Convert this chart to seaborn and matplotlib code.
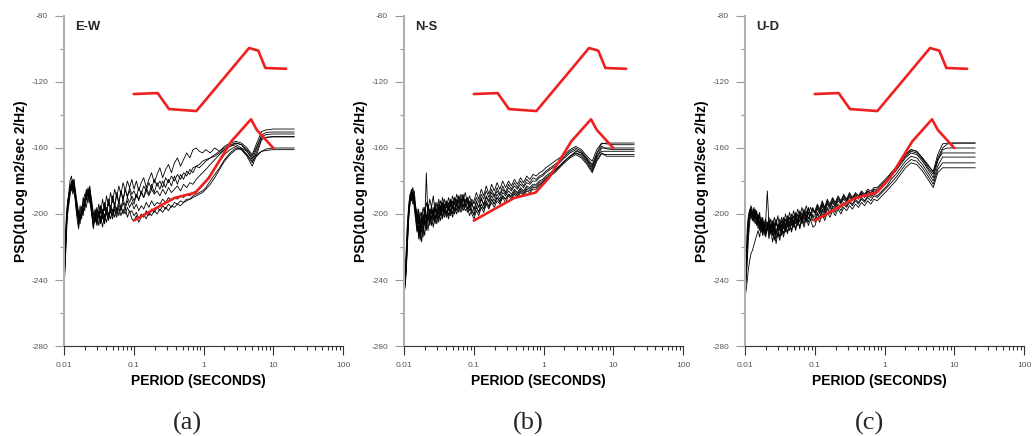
import pandas as pd
import matplotlib
matplotlib.use('Agg')
import matplotlib.pyplot as plt
import seaborn as sns
from matplotlib.ticker import LogLocator, NullFormatter

sns.set_style('ticks')
plt.rcParams['font.family'] = ['Liberation Sans', 'DejaVu Sans']
plt.rcParams['axes.unicode_minus'] = False

#=#=#=#=#=#=#=#=#=#=#=#= DADOS #=#=#=#=#=#=#=#=#=#=#=#=

# periodos (s) – parte ruidosa, intermediaria e longa
PERIOD_SHORT = [0.0100, 0.0104, 0.0108, 0.0112, 0.0117, 0.0122, 0.0128, 0.0134, 0.0140, 0.0147,
                0.0154, 0.0162, 0.0170, 0.0179, 0.0188, 0.0198, 0.0209, 0.0221, 0.0234, 0.0248,
                0.0263, 0.0279, 0.0296, 0.0315, 0.0335, 0.0357, 0.0381, 0.0407, 0.0435, 0.0465,
                0.0497, 0.0532, 0.0570, 0.0611, 0.0655, 0.0703, 0.0755, 0.0811, 0.0872, 0.0938]
PERIOD_MID = [0.101, 0.109, 0.118, 0.128, 0.139, 0.151, 0.165, 0.180, 0.197, 0.216,
              0.237, 0.260, 0.286, 0.315, 0.347, 0.383, 0.423, 0.468, 0.518, 0.574,
              0.637, 0.707, 0.785, 0.872, 0.969, 1.08]
PERIOD_LONG = [1.25, 1.45, 1.70, 2.0, 2.4, 2.9, 3.5, 4.2, 5.0, 5.8, 6.8, 8.0, 10, 13, 16, 20]
PERIOD = PERIOD_SHORT + PERIOD_MID + PERIOD_LONG

# modelos de ruido (vermelho)
NHNM_PERIOD = [0.1, 0.22, 0.32, 0.79, 4.5, 6.1, 7.7, 15.3]
NHNM_DB = [-127.3, -126.7, -136.4, -137.6, -99.4, -101, -111.5, -112]
NLNM_PERIOD = [0.1, 0.38, 0.77, 1.2, 2.5, 4.8, 5.8, 10]
NLNM_DB = [-204, -190.3, -187, -178, -156, -142.6, -149, -160]

# componente E-W
ew_curves = [
    [-242, -228, -210, -196, -187, -180, -177, -183, -179, -190, -197, -204, -195, -199, -190, -194, -185, -188, -183, -197,
     -206, -197, -203, -194, -200, -191, -198, -189, -195, -187, -193, -185, -190, -183, -188, -181, -186, -180, -184, -179]
    + [-185, -180, -186, -181, -178, -184, -179, -175, -181, -176, -172, -178, -173, -170, -175, -169, -166, -171, -167, -163,
       -166, -161, -160, -162, -163, -161]
    + [-163, -160, -162, -159, -157, -156, -157, -160, -164, -157, -150, -149, -148.5, -148.5, -148.5, -148.5],
    [-236, -220, -204, -193, -189, -184, -181, -186, -182, -192, -199, -207, -199, -196, -193, -188, -191, -184, -190, -194,
     -201, -203, -196, -202, -195, -203, -194, -200, -192, -198, -190, -196, -188, -194, -186, -192, -185, -190, -184, -188]
    + [-186, -190, -184, -188, -183, -186, -181, -185, -179, -183, -180, -184, -178, -181, -177, -180, -176, -179, -175, -177,
       -173, -175, -171, -170, -168, -167]
    + [-166, -164, -162, -160, -158, -157, -158, -162, -167, -160, -152, -150.5, -150.3, -150.3, -150.3, -150.3],
    [-240, -226, -208, -199, -192, -187, -185, -181, -186, -193, -201, -198, -204, -197, -195, -191, -189, -186, -192, -199,
     -204, -198, -206, -199, -205, -197, -202, -196, -201, -195, -199, -194, -198, -192, -196, -191, -195, -190, -193, -189]
    + [-192, -188, -191, -187, -190, -186, -189, -185, -188, -186, -189, -185, -188, -184, -187, -185, -183, -186, -182, -184,
       -181, -182, -179, -177, -175, -173]
    + [-170, -167, -164, -161, -159, -158, -160, -164, -169, -162, -154, -153.5, -153.3, -153.3, -153.3, -153.3],
    [-246, -232, -214, -201, -195, -189, -183, -188, -184, -195, -203, -209, -200, -203, -196, -198, -190, -193, -187, -200,
     -208, -202, -207, -200, -206, -199, -204, -198, -203, -196, -201, -195, -200, -194, -198, -193, -197, -192, -196, -193]
    + [-197, -194, -198, -195, -197, -193, -196, -192, -195, -193, -194, -191, -193, -190, -192, -190, -191, -189, -190, -188,
       -189, -187, -186, -184, -182, -180]
    + [-176, -172, -168, -164, -161, -159, -161, -165, -171, -164, -155, -153.5, -153, -153, -153, -153],
    [-233, -218, -202, -194, -188, -186, -180, -185, -187, -191, -196, -202, -206, -198, -201, -193, -196, -189, -193, -196,
     -209, -201, -205, -198, -204, -200, -206, -199, -204, -198, -203, -197, -202, -196, -201, -197, -200, -196, -199, -198]
    + [-201, -199, -203, -200, -202, -198, -201, -197, -199, -196, -198, -195, -197, -194, -196, -193, -194, -192, -193, -191,
       -191, -189, -188, -187, -186, -184]
    + [-180, -176, -172, -167, -163, -160, -161, -164, -168, -165, -162, -160.5, -160, -160, -160, -160],
    [-239, -224, -206, -197, -191, -183, -186, -180, -185, -189, -195, -200, -203, -201, -194, -196, -187, -190, -185, -193,
     -203, -205, -199, -207, -201, -208, -200, -205, -199, -203, -197, -202, -196, -201, -195, -200, -196, -202, -198, -203]
    + [-204, -201, -205, -202, -200, -203, -199, -201, -198, -200, -197, -199, -196, -198, -195, -196, -194, -195, -193, -192,
       -191, -190, -189, -188, -187, -185]
    + [-182, -178, -173, -168, -164, -161, -160, -162, -166, -164, -162, -161.5, -161, -161, -161, -161],
    [-243, -229, -211, -195, -190, -185, -182, -179, -181, -187, -193, -199, -202, -197, -199, -192, -186, -189, -184, -191,
     -199, -204, -197, -200, -195, -201, -193, -199, -191, -197, -189, -195, -187, -193, -186, -191, -185, -189, -186, -191]
    + [-194, -188, -192, -186, -190, -184, -188, -182, -187, -181, -185, -180, -184, -179, -183, -177, -182, -176, -179, -174,
       -176, -172, -171, -172, -170, -168]
    + [-166, -165, -163, -161, -159, -157, -158, -161, -165, -159, -153, -151.8, -151.5, -151.5, -151.5, -151.5],
]

# componente N-S
ns_curves = [
    [-246, -241, -230, -214, -199, -190, -187, -192, -186, -195, -203, -197, -208, -199, -206, -196, -203, -194, -200, -195,
     -202, -193, -199, -191, -197, -190, -196, -192, -198, -191, -197, -190, -195, -189, -194, -188, -193, -190, -195, -191]
    + [-194, -190, -193, -188, -191, -186, -190, -185, -189, -184, -188, -183, -187, -182, -185, -181, -184, -180, -183, -179,
       -181, -178, -179, -177, -176, -174]
    + [-172, -170, -168, -165, -162, -160, -162, -166, -170, -163, -157.5, -157, -157, -157, -157, -157],
    [-240, -236, -225, -208, -196, -189, -185, -190, -194, -200, -210, -203, -214, -205, -211, -201, -208, -199, -205, -198,
     -204, -196, -202, -194, -200, -193, -199, -195, -201, -194, -200, -193, -198, -192, -197, -191, -196, -193, -198, -194]
    + [-197, -193, -196, -191, -195, -190, -193, -189, -192, -188, -191, -187, -189, -186, -188, -185, -187, -184, -186, -183,
       -184, -182, -182, -180, -179, -177]
    + [-175, -173, -171, -168, -165, -163, -164, -168, -173, -166, -160, -160, -160, -160, -160, -160],
    [-248, -244, -234, -219, -203, -193, -189, -186, -191, -198, -205, -212, -202, -209, -200, -206, -175, -204, -197, -203,
     -196, -205, -197, -203, -195, -202, -194, -200, -193, -199, -192, -198, -191, -197, -190, -196, -191, -197, -192, -198]
    + [-201, -195, -199, -194, -197, -192, -196, -191, -194, -190, -193, -189, -191, -188, -190, -187, -189, -186, -188, -185,
       -186, -184, -184, -182, -181, -179]
    + [-177, -174, -171, -168, -165, -162, -163, -167, -171, -165, -162, -162, -162, -162, -162, -162],
    [-243, -238, -227, -211, -198, -191, -190, -194, -189, -202, -197, -215, -206, -217, -207, -213, -203, -210, -200, -207,
     -198, -206, -199, -205, -197, -203, -196, -202, -195, -201, -195, -200, -194, -199, -193, -198, -194, -199, -195, -200]
    + [-203, -198, -201, -196, -199, -194, -197, -193, -196, -192, -194, -190, -193, -189, -191, -188, -190, -187, -189, -186,
       -187, -185, -185, -183, -181, -179]
    + [-177, -175, -172, -169, -166, -164, -166, -170, -175, -168, -163.5, -164, -164, -164, -164, -164],
    [-245, -242, -232, -217, -201, -194, -188, -184, -190, -196, -201, -206, -199, -203, -196, -201, -193, -198, -191, -196,
     -189, -199, -193, -198, -192, -197, -191, -196, -190, -195, -189, -194, -188, -193, -188, -192, -187, -193, -189, -194]
    + [-192, -187, -191, -185, -189, -183, -188, -182, -186, -181, -185, -180, -184, -180, -183, -179, -182, -178, -181, -177,
       -179, -176, -177, -175, -174, -172]
    + [-170, -168, -166, -164, -161, -159, -161, -165, -168, -161, -157, -157.5, -158, -158, -158, -158],
    [-239, -233, -220, -205, -194, -188, -192, -188, -196, -204, -211, -207, -216, -209, -214, -204, -210, -201, -207, -202,
     -208, -200, -206, -198, -204, -197, -202, -198, -203, -197, -202, -196, -200, -195, -199, -194, -198, -196, -201, -197]
    + [-200, -196, -199, -194, -197, -193, -195, -191, -194, -190, -192, -189, -191, -188, -189, -186, -188, -185, -187, -184,
       -185, -183, -183, -181, -180, -178]
    + [-176, -174, -171, -168, -165, -163, -165, -169, -174, -167, -163, -165, -165, -165, -165, -165],
    [-247, -243, -231, -216, -200, -192, -186, -189, -193, -199, -206, -200, -211, -203, -208, -198, -205, -196, -202, -197,
     -201, -195, -203, -196, -201, -194, -200, -193, -198, -192, -196, -190, -195, -189, -194, -189, -195, -190, -196, -193]
    + [-198, -192, -196, -190, -194, -189, -192, -187, -190, -186, -189, -185, -188, -184, -186, -183, -185, -182, -184, -181,
       -182, -180, -180, -178, -177, -175]
    + [-173, -171, -169, -166, -163, -161, -163, -167, -172, -164, -159, -160.5, -161, -161, -161, -161],
]

# componente U-D
ud_curves = [
    [-248, -236, -218, -205, -199, -196, -201, -197, -203, -199, -206, -201, -208, -203, -210, -204, -186, -207, -212, -205,
     -211, -204, -209, -203, -208, -202, -207, -201, -206, -200, -205, -199, -204, -198, -203, -197, -202, -196, -201, -197]
    + [-199, -195, -198, -193, -197, -192, -195, -191, -194, -190, -193, -189, -192, -188, -191, -188, -190, -187, -189, -186,
       -188, -185, -186, -184, -182, -180]
    + [-176, -173, -169, -165, -162, -163, -167, -172, -176, -166, -160, -157.5, -157, -157, -157, -157],
    [-245, -230, -212, -202, -198, -203, -199, -205, -200, -207, -203, -210, -205, -212, -206, -214, -207, -213, -206, -211,
     -205, -212, -206, -210, -204, -209, -203, -208, -202, -207, -201, -206, -200, -205, -199, -204, -198, -203, -199, -202]
    + [-201, -197, -200, -195, -199, -194, -197, -193, -196, -192, -194, -191, -193, -190, -192, -189, -191, -188, -190, -187,
       -189, -186, -187, -185, -183, -181]
    + [-177, -174, -170, -166, -163, -164, -168, -173, -178, -168, -161, -160, -160, -160, -160, -160],
    [-250, -246, -240, -233, -228, -224, -222, -219, -216, -213, -210, -214, -208, -213, -207, -212, -205, -211, -206, -213,
     -207, -215, -208, -214, -207, -212, -206, -211, -205, -210, -204, -209, -203, -208, -202, -206, -201, -205, -200, -204]
    + [-203, -199, -202, -197, -200, -196, -199, -195, -197, -194, -196, -193, -195, -192, -194, -191, -193, -190, -192, -189,
       -190, -188, -189, -187, -185, -183]
    + [-179, -176, -172, -168, -165, -166, -170, -175, -180, -171, -165.5, -165.5, -165.5, -165.5, -165.5, -165.5],
    [-244, -226, -208, -201, -197, -200, -204, -199, -206, -202, -209, -204, -211, -205, -213, -206, -210, -204, -212, -207,
     -216, -209, -214, -207, -213, -206, -211, -205, -210, -204, -208, -203, -207, -201, -206, -200, -205, -199, -204, -200]
    + [-205, -200, -203, -198, -202, -197, -200, -196, -199, -195, -198, -194, -196, -193, -195, -192, -194, -191, -193, -190,
       -192, -189, -190, -188, -186, -184]
    + [-181, -178, -174, -170, -167, -168, -172, -177, -182, -173, -169, -169, -169, -169, -169, -169],
    [-247, -240, -228, -215, -205, -198, -202, -196, -201, -198, -204, -199, -207, -202, -209, -203, -208, -202, -210, -204,
     -209, -203, -210, -205, -211, -204, -209, -203, -207, -202, -206, -200, -205, -199, -204, -198, -202, -197, -200, -196]
    + [-200, -196, -199, -194, -198, -193, -196, -192, -195, -191, -193, -190, -192, -189, -191, -188, -190, -187, -189, -186,
       -187, -185, -185, -183, -181, -179]
    + [-175, -172, -168, -164, -161, -162, -166, -171, -174, -164, -157.5, -157, -157, -157, -157, -157],
    [-249, -238, -224, -210, -202, -197, -200, -204, -198, -205, -201, -208, -203, -210, -205, -213, -207, -215, -209, -217,
     -210, -218, -211, -216, -209, -214, -208, -212, -206, -211, -205, -210, -204, -209, -203, -208, -202, -207, -203, -208]
    + [-207, -202, -205, -200, -204, -199, -202, -198, -201, -197, -200, -196, -198, -195, -197, -194, -196, -193, -195, -192,
       -194, -191, -192, -190, -188, -186]
    + [-183, -180, -176, -172, -169, -170, -174, -179, -184, -175, -172, -172, -172, -172, -172, -172],
    [-243, -232, -216, -204, -199, -195, -198, -202, -197, -203, -200, -206, -202, -209, -204, -211, -205, -209, -203, -208,
     -202, -207, -201, -208, -202, -206, -200, -205, -199, -204, -198, -203, -197, -202, -196, -201, -195, -200, -196, -199]
    + [-198, -194, -197, -192, -196, -191, -194, -190, -193, -189, -192, -188, -191, -187, -190, -187, -189, -186, -188, -185,
       -186, -184, -184, -182, -180, -178]
    + [-175, -172, -168, -164, -161, -162, -166, -170, -175, -167, -163, -163, -163, -163, -163, -163],
]

PANELS = [('E-W', ew_curves, '(a)'), ('N-S', ns_curves, '(b)'), ('U-D', ud_curves, '(c)')]

#=#=#=#=#=#=#=#=#=#=#=#= GRAFICO #=#=#=#=#=#=#=#=#=#=#=#=

fig = plt.figure(figsize=(10.32, 4.36), dpi=100)
lefts = [64, 404, 745]

for i, (comp, curvas, letra) in enumerate(PANELS):
    rows = []
    for k, c in enumerate(curvas):
        assert len(c) == len(PERIOD), (comp, k, len(c))
        for p, v in zip(PERIOD, c):
            rows.append({'period': p, 'psd': v, 'curve': k})
    df = pd.DataFrame(rows)

    ax = fig.add_axes([lefts[i] / 1032, 90 / 436, 279 / 1032, 330 / 436])
    sns.lineplot(data=df, x='period', y='psd', units='curve', estimator=None,
                 color='black', linewidth=0.6, ax=ax, legend=False)
    sns.lineplot(x=NHNM_PERIOD, y=NHNM_DB, color='#f02020', linewidth=1.9, ax=ax)
    sns.lineplot(x=NLNM_PERIOD, y=NLNM_DB, color='#f02020', linewidth=1.9, ax=ax)

    ax.set_xscale('log')
    ax.set_xlim(0.01, 100)
    ax.set_ylim(-280, -80)
    ax.set_xticks([0.01, 0.1, 1, 10, 100])
    ax.set_xticklabels(['0.01', '0.1', '1', '10', '100'])
    ax.xaxis.set_minor_locator(LogLocator(base=10, subs=range(2, 10)))
    ax.xaxis.set_minor_formatter(NullFormatter())
    ax.set_yticks([-280, -240, -200, -160, -120, -80])
    ax.set_yticks([-260, -220, -180, -140, -100], minor=True)

    ax.tick_params(axis='both', which='major', direction='out', length=6.5, width=0.8,
                   labelsize=6, labelcolor='#555555', pad=5)
    ax.tick_params(axis='both', which='minor', direction='out', length=3.2, width=0.8)
    ax.tick_params(axis='y', which='both', color='#999999')
    ax.tick_params(axis='x', which='both', color='#333333')

    for s in ['top', 'right']:
        ax.spines[s].set_visible(False)
    ax.spines['left'].set_color('#b0b0b0')
    ax.spines['left'].set_linewidth(1.5)
    ax.spines['bottom'].set_color('#333333')
    ax.spines['bottom'].set_linewidth(0.8)

    ax.set_xlabel('PERIOD (SECONDS)', fontsize=10, fontweight='bold', color='black')
    ax.set_ylabel('PSD(10Log m2/sec 2/Hz)', fontsize=10, fontweight='bold', color='black')
    ax.xaxis.set_label_coords(0.482, -0.085)
    ax.yaxis.set_label_coords(-0.13, 0.5)

    ax.text(0.04, 0.985, comp, transform=ax.transAxes, fontsize=9.4,
            fontweight='bold', va='top', ha='left')
    fig.text((187 + 341 * i) / 1032, 1 - 423 / 436, letra, fontsize=19,
             family='Liberation Serif', ha='center', va='center')

fig.savefig('out.png', dpi=100)
plt.close()
